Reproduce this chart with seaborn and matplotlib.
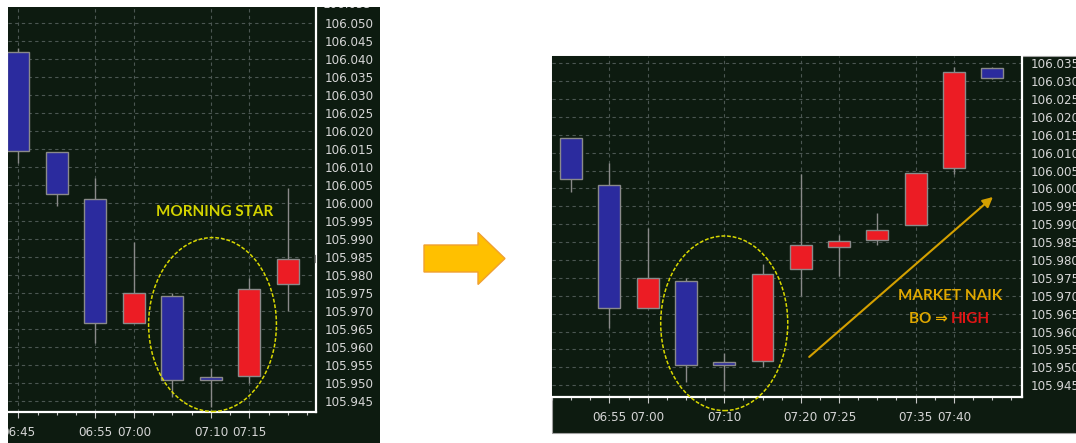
import numpy as np
import pandas as pd
import matplotlib
matplotlib.use("Agg")
import matplotlib.pyplot as plt
import matplotlib.patches as mpatches
from matplotlib.transforms import Bbox, TransformedBbox
import seaborn as sns

# 5-minute candles
times = ["06:45", "06:50", "06:55", "07:00", "07:05", "07:10", "07:15",
         "07:20", "07:25", "07:30", "07:35", "07:40", "07:45"]
opens = [106.0420, 106.0140, 106.0010, 105.9667, 105.9740, 105.9515, 105.9518,
         105.9775, 105.9837, 105.9856, 105.9897, 106.0057, 106.0336]
closes = [106.0144, 106.0025, 105.9667, 105.9750, 105.9507, 105.9507, 105.9760,
          105.9843, 105.9854, 105.9884, 106.0044, 106.0326, 106.0308]
highs = [106.0430, 106.0140, 106.0070, 105.9890, 105.9750, 105.9540, 105.9790,
         106.0040, 105.9870, 105.9930, 106.0044, 106.0340, 106.0340]
lows = [106.0110, 105.9990, 105.9610, 105.9667, 105.9460, 105.9433, 105.9500,
        105.9700, 105.9755, 105.9842, 105.9897, 106.0040, 106.0305]

left_xlabels = ["06:45", "06:55", "07:00", "07:10", "07:15"]
right_xlabels = ["06:55", "07:00", "07:10", "07:20", "07:25", "07:35", "07:40"]
left_yticks = np.round(np.arange(105.945, 106.0551, 0.005), 3)
right_yticks = np.round(np.arange(105.945, 106.0351, 0.005), 3)

BG = "#0d1b10"
GRID = "#4b5652"
TXT = "#d6d6d6"
BLUE = "#2b2b9e"
RED = "#ec1c24"
EDGE = "#8a8a8a"
ANNOT_FONT = ["Lato", "DejaVu Sans"]


def minutes(s):
    h, m = s.split(":")
    return (int(h) - 6) * 60 + int(m) - 45


df = pd.DataFrame({"time": times, "open": opens, "high": highs,
                   "low": lows, "close": closes})
df["t"] = df["time"].map(minutes)

sns.set_theme(style="dark", rc={"axes.facecolor": BG})
plt.rcParams["font.family"] = ["DejaVu Sans"]

W, H = 1076, 443
fig = plt.figure(figsize=(W / 100, H / 100), dpi=100)
fig.patch.set_facecolor("white")

# background layer in pixel units
bg = fig.add_axes([0, 0, 1, 1], zorder=0)
bg.set_xlim(0, W)
bg.set_ylim(H, 0)
bg.axis("off")
bg.add_patch(mpatches.Rectangle((8, 7), 372, 436, facecolor=BG, edgecolor="none"))
bg.add_patch(mpatches.Rectangle((552, 56), 530, 377, facecolor=BG,
                                edgecolor="#a0a0a0", lw=0.8))
bg.add_patch(mpatches.FancyArrow(424, 258.5, 81, 0, width=27, head_width=52,
                                 head_length=27, length_includes_head=True,
                                 facecolor="#ffc000", edgecolor="#f0a030", lw=1))


def px_axes(x0, y0, x1, y1):
    return fig.add_axes([x0 / W, 1 - y1 / H, (x1 - x0) / W, (y1 - y0) / H], zorder=2)


def draw_candles(ax):
    up = df["close"] >= df["open"]
    ax.vlines(df["t"], df["low"], df["high"], color=EDGE, lw=1, zorder=2)
    ax.bar(df["t"], (df["close"] - df["open"]).abs(),
           bottom=df[["open", "close"]].min(axis=1), width=2.86,
           color=np.where(up, RED, BLUE), edgecolor=EDGE, linewidth=1, zorder=3)


def style_axes(ax, xlim, ylim, yticks, xlabels, clip=None):
    ax.set_facecolor(BG)
    ax.yaxis.tick_right()
    ax.set_yticks(yticks)
    ax.set_yticklabels([f"{v:.3f}" for v in yticks])
    ax.set_yticks(np.arange(105.940, 106.058, 0.001), minor=True)
    ax.set_xticks([minutes(s) for s in xlabels])
    ax.set_xticklabels(xlabels)
    ax.set_xticks(np.arange(-5, 70, 2.5), minor=True)
    ax.set_xlim(*xlim)
    ax.set_ylim(*ylim)
    ax.grid(True, which="major", linestyle=(0, (3, 3)), color=GRID, lw=0.8)
    ax.tick_params(which="both", colors="#c8c8c8", labelcolor=TXT, width=0.8)
    ax.tick_params(axis="y", which="major", length=4, pad=2, labelsize=8.6,
                   right=True, left=False, labelright=True, labelleft=False)
    ax.tick_params(axis="y", which="minor", length=2, right=True, left=False)
    ax.tick_params(axis="x", which="major", length=4, pad=6, labelsize=8.6,
                   bottom=True)
    ax.tick_params(axis="x", which="minor", length=2, bottom=True)
    sns.despine(ax=ax, left=True, top=True, right=False, bottom=False)
    for side in ("right", "bottom"):
        ax.spines[side].set_color("white")
        ax.spines[side].set_linewidth(1.6)
    if clip is not None:
        box = TransformedBbox(Bbox.from_extents(*clip), fig.transFigure)
        for tk in ax.yaxis.get_major_ticks() + ax.xaxis.get_major_ticks():
            for lab in (tk.label1, tk.label2):
                lab.set_clip_box(box)
                lab.set_clip_on(True)
        return box


# left chart
axl = px_axes(8, 7, 316, 412)
draw_candles(axl)
left_box = style_axes(axl, (-1.36, 38.64), (105.9419, 106.0544), left_yticks,
                      left_xlabels, clip=(8 / W, 0, 380 / W, 1 - 7 / H))
# price label just above the visible range, cut by the panel edge
top_lab = axl.text(1.0, 106.055, "106.055", color=TXT, fontsize=8.6,
                   transform=axl.get_yaxis_transform(), ha="left", va="center",
                   clip_on=True)
top_lab.set_clip_box(left_box)
top_lab.set_x(1.0 + 7 / 308)
axl.add_patch(mpatches.Ellipse((25.2, 105.9662), 16.6, 0.0483, fill=False,
                               edgecolor="#d8d800", lw=1.1, ls=(0, (2.5, 1.2)),
                               zorder=4, clip_on=False))
axl.text(25.5, 105.9975, "MORNING STAR", color="#d4d400", fontsize=11,
         fontweight="bold", family=ANNOT_FONT,
         ha="center", va="center", zorder=5)

# right chart
axr = px_axes(552, 56, 1022, 397)
draw_candles(axr)
style_axes(axr, (2.5, 63.9), (105.9417, 106.037), right_yticks, right_xlabels)
axr.add_patch(mpatches.Ellipse((25.0, 105.9623), 16.6, 0.0488, fill=False,
                               edgecolor="#d8d800", lw=1.1, ls=(0, (2.5, 1.2)),
                               zorder=4, clip_on=False))
axr.annotate("", xy=(60.1, 105.9976), xytext=(36.1, 105.9529),
             arrowprops=dict(arrowstyle="-|>", color="#d4a000", lw=1.5,
                             mutation_scale=15, shrinkA=0, shrinkB=0), zorder=5)
axr.text(54.5, 105.9699, "MARKET NAIK", color="#e0a800", fontsize=11,
         fontweight="bold", family=ANNOT_FONT,
         ha="center", va="center", zorder=5)
axr.text(54.2, 105.9635, "BO \u21d2", color="#e0a800", fontsize=11,
         fontweight="bold", family=ANNOT_FONT,
         ha="right", va="center", zorder=5)
axr.text(54.6, 105.9635, "HIGH", color="#e01515", fontsize=11,
         fontweight="bold", family=ANNOT_FONT,
         ha="left", va="center", zorder=5)

fig.savefig("out.png", dpi=100, facecolor="white")
